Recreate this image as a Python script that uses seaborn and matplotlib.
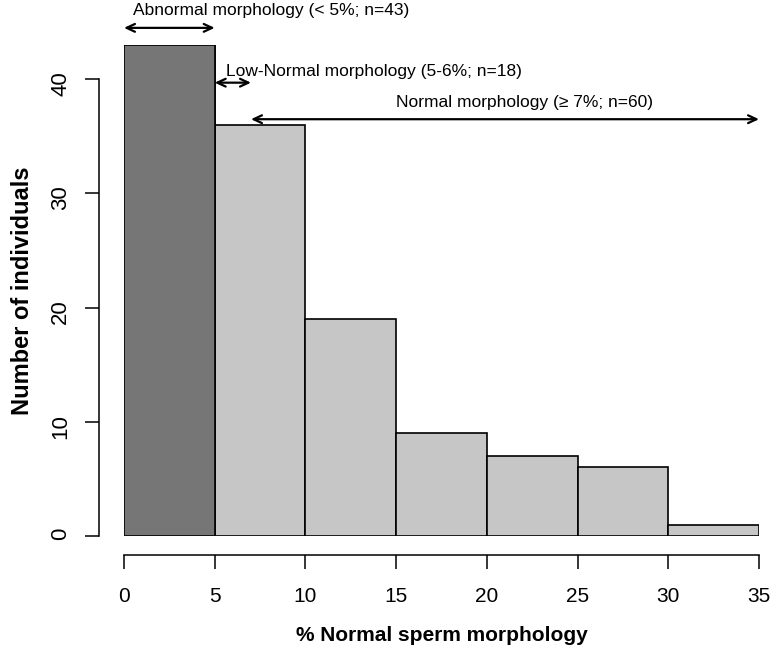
import numpy as np
import matplotlib
matplotlib.use("Agg")
import matplotlib.pyplot as plt
import seaborn as sns

# histogram bins (% normal sperm morphology) and counts
bin_edges = [0, 5, 10, 15, 20, 25, 30, 35]
counts = [43, 36, 19, 9, 7, 6, 1]

# annotation groups: label, arrow start/end, arrow height, text position (left edge)
groups = ["Abnormal morphology (< 5%; n=43)",
          "Low-Normal morphology (5-6%; n=18)",
          "Normal morphology (\u2265 7%; n=60)"]
arrow_x0 = [0, 5, 7]
arrow_x1 = [5, 7, 35]
arrow_y = [44.5, 39.7, 36.5]
text_x = [0.5, 5.65, 15.0]
text_y = [46.0, 40.7, 38.0]

centers = [(a + b) / 2 for a, b in zip(bin_edges[:-1], bin_edges[1:])]

sns.set_style("ticks")
plt.rcParams['font.family'] = ['Liberation Sans', 'DejaVu Sans']
plt.rcParams.update({"text.color": "black", "axes.labelcolor": "black",
                     "xtick.color": "black", "ytick.color": "black"})

fig = plt.figure(figsize=(7.73, 6.53), dpi=100)
ax = fig.add_axes([0.1604, 0.1792, 0.8215, 0.7519])

# light grey bars for all bins, then the first (abnormal) bin in dark grey
sns.histplot(x=centers, weights=counts, bins=bin_edges, ax=ax,
             color="#c6c6c6", alpha=1, edgecolor="black", linewidth=1.2)
sns.histplot(x=centers[:1], weights=counts[:1], bins=bin_edges[:2], ax=ax,
             color="#767676", alpha=1, edgecolor="black", linewidth=1.2)

ax.set_xlim(0, 35)
ax.set_ylim(0, 43)
ax.set_xticks(bin_edges)
ax.set_yticks([0, 10, 20, 30, 40])
ax.tick_params(axis="both", length=10, width=1.1, color="black", labelcolor="black")
ax.tick_params(axis="x", labelsize=15, pad=13)
ax.tick_params(axis="y", labelsize=16, pad=10, labelrotation=90)
for lbl in ax.get_yticklabels():
    lbl.set_va("center")

for s in ["top", "right"]:
    ax.spines[s].set_visible(False)
ax.spines["left"].set_position(("outward", 18))
ax.spines["bottom"].set_position(("outward", 14))
ax.spines["left"].set_bounds(0, 40)
ax.spines["bottom"].set_bounds(0, 35)
for s in ["left", "bottom"]:
    ax.spines[s].set_linewidth(1.1)
    ax.spines[s].set_color("black")

ax.set_xlabel("% Normal sperm morphology", fontsize=15, fontweight="bold",
              labelpad=14, color="black")
ax.set_ylabel("Number of individuals", fontsize=17, fontweight="bold",
              labelpad=12, color="black")

for lab, x0, x1, ya, tx, ty in zip(groups, arrow_x0, arrow_x1, arrow_y, text_x, text_y):
    ax.annotate("", xy=(x0, ya), xytext=(x1, ya), annotation_clip=False,
                arrowprops=dict(arrowstyle="<->,head_length=0.6,head_width=0.28",
                                lw=1.6, color="black", shrinkA=0, shrinkB=0))
    ax.text(tx, ty, lab, ha="left", va="center", fontsize=12.5, color="black",
            clip_on=False)

fig.savefig("out.png", dpi=100)
